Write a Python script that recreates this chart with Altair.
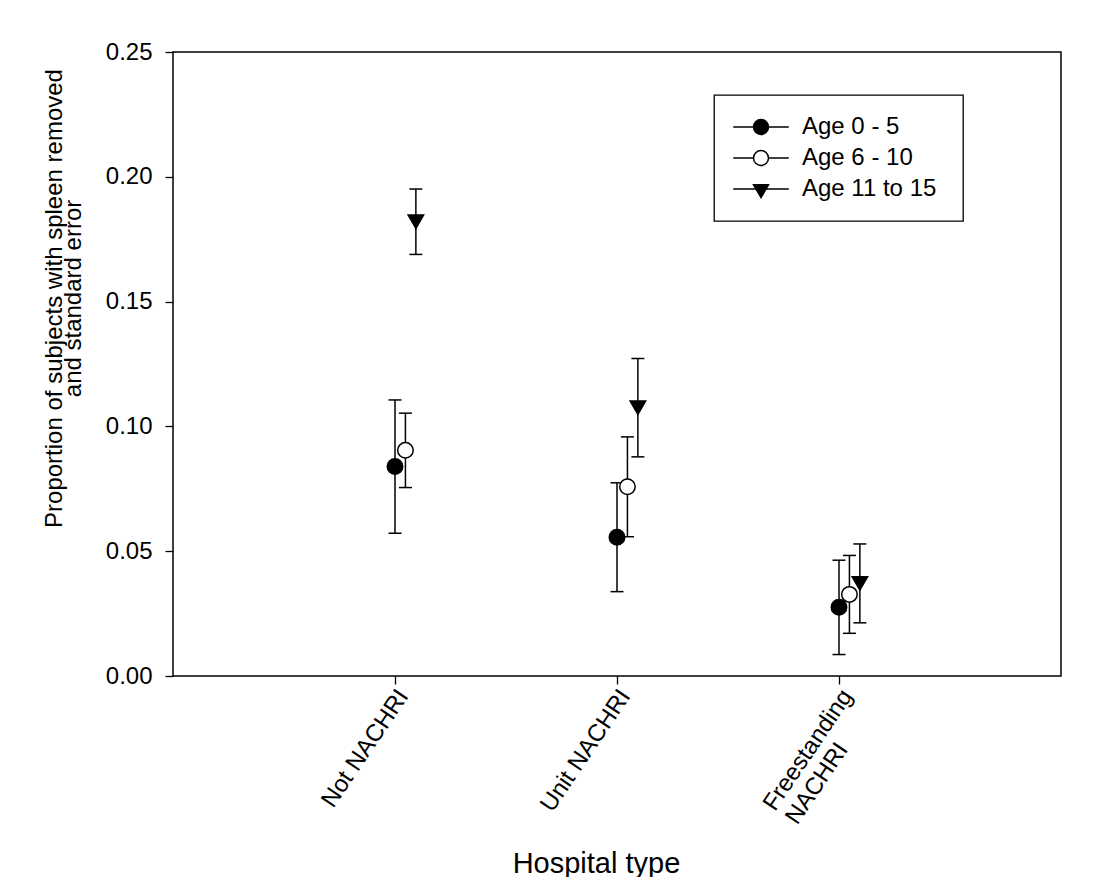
import json
import altair as alt
import pandas as pd

# ---- data ----
hospitals = ["Not NACHRI", "Unit NACHRI", "Freestanding NACHRI"]
ages = ["Age 0 - 5", "Age 6 - 10", "Age 11 to 15"]

age_0_5 = [0.0839, 0.0556, 0.0275]
age_0_5_se = [0.0267, 0.0218, 0.0189]
age_6_10 = [0.0904, 0.0758, 0.0327]
age_6_10_se = [0.0149, 0.0200, 0.0156]
age_11_15 = [0.1820, 0.1075, 0.0371]
age_11_15_se = [0.0131, 0.0197, 0.0158]

# second line of the last label is left-aligned under the first one
tick_label_lines = [["Not NACHRI"], ["Unit NACHRI"],
                    ["Freestanding", "NACHRI" + "\u00a0" * 7 + "\u200b"]]
y_ticks = [0.0, 0.05, 0.10, 0.15, 0.20, 0.25]

means = [age_0_5, age_6_10, age_11_15]
ses = [age_0_5_se, age_6_10_se, age_11_15_se]

rows = []
for a, age in enumerate(ages):
    for h, hosp in enumerate(hospitals):
        rows.append({"hospital": hosp, "age": age,
                     "p": means[a][h], "se": ses[a][h]})
df = pd.DataFrame(rows)

FONT = "Liberation Sans"

base = alt.Chart(df).transform_calculate(
    pos=f"indexof({json.dumps(hospitals)}, datum.hospital) + 1 + "
        f"indexof({json.dumps(ages)}, datum.age) * 0.047",
    lo="datum.p - datum.se",
    hi="datum.p + datum.se",
)

x_enc = alt.X(
    "pos:Q",
    scale=alt.Scale(domain=[0, 4], nice=False, zero=False),
    axis=alt.Axis(
        values=[1, 2, 3],
        labelExpr=f"{json.dumps(tick_label_lines, ensure_ascii=False)}[datum.value - 1]",
        labelAngle=304,
        labelAlign="right",
        labelBaseline="top",
        labelOffset=-2,
        labelPadding=1,
        labelFontSize=24,
        labelLineHeight=26,
        title="Hospital type",
        titleFontSize=29,
        titleFontWeight="normal",
        titleX=423,
        titleY=196,
        titleBaseline="alphabetic",
        titleAlign="center",
        tickSize=8,
        grid=False,
        domain=False,
    ),
)

y_axis = alt.Axis(
    values=y_ticks,
    format=".2f",
    labelFontSize=24,
    labelPadding=13,
    tickSize=8,
    grid=False,
    domain=False,
    title=["Proportion of subjects with spleen removed", "and standard error"],
    titleFontSize=24,
    titleFontWeight="normal",
    titleAngle=270,
    titleX=-112,
    titleY=246,
    titleAlign="center",
    titleBaseline="alphabetic",
    titleLineHeight=19,
)
y_scale = alt.Scale(domain=[0, 0.25], nice=False, zero=True)

bars = base.mark_rule(color="black", strokeWidth=1.5).encode(
    x=x_enc,
    y=alt.Y("lo:Q", scale=y_scale, axis=y_axis),
    y2="hi:Q",
)

caps_lo = base.mark_tick(color="black", orient="horizontal", size=13,
                         thickness=1.5, opacity=1).encode(
    x="pos:Q", y="lo:Q")
caps_hi = base.mark_tick(color="black", orient="horizontal", size=13,
                         thickness=1.5, opacity=1).encode(
    x="pos:Q", y="hi:Q")

points = base.mark_point(filled=True, stroke="black", strokeWidth=1.5,
                         size=240, opacity=1).encode(
    x="pos:Q",
    y="p:Q",
    shape=alt.Shape("age:N", legend=None,
                    scale=alt.Scale(domain=ages,
                                    range=["circle", "circle", "triangle-down"])),
    fill=alt.Fill("age:N", legend=None,
                  scale=alt.Scale(domain=ages, range=["black", "white", "black"])),
)

# legend-only layer (no rows) that carries the line+marker legend symbols
circle_path = "M-3.7,0H-1M1,0H3.7M1,0A1,1,0,1,1,-1,0A1,1,0,1,1,1,0Z"
tri_path = "M-3.7,0H3.7M-1,-0.58L1,-0.58L0,1.15Z"
leg = alt.Legend(title=None, labelExpr="datum.label + '\u00a0\u200b'")
legend_layer = alt.Chart(df).transform_filter("false").mark_point(
    filled=True, strokeWidth=1.5, opacity=1
).encode(
    x="p:Q",
    y="p:Q",
    shape=alt.Shape("age:N", legend=leg,
                    scale=alt.Scale(domain=ages,
                                    range=[circle_path, circle_path, tri_path])),
    fill=alt.Fill("age:N", legend=leg,
                  scale=alt.Scale(domain=ages, range=["black", "white", "black"])),
    stroke=alt.Stroke("age:N", legend=leg,
                      scale=alt.Scale(domain=ages, range=["black", "black", "black"])),
)

chart = alt.layer(bars, caps_lo, caps_hi, points, legend_layer).resolve_scale(
    shape="independent", fill="independent", stroke="independent"
).properties(
    width=888,
    height=624,
    background="white",
    autosize=alt.AutoSizeParams(type="none"),
    padding={"left": 165, "top": 44, "right": 28, "bottom": 201},
).configure_view(
    stroke="black", strokeWidth=1.5
).configure_axis(
    labelFont=FONT, titleFont=FONT, labelColor="black", titleColor="black",
    tickColor="black", tickWidth=1.3,
).configure_legend(
    orient="none",
    legendX=541,
    legendY=43,
    strokeColor="black",
    strokeWidth=1.3,
    fillColor="white",
    padding=20,
    symbolSize=225,
    symbolStrokeWidth=1.5,
    symbolOffset=15,
    labelFont=FONT,
    labelFontSize=24,
    labelColor="black",
    labelOffset=29,
    rowPadding=7,
)

chart.save("out.html", embed_options={"renderer": "svg", "actions": False})
